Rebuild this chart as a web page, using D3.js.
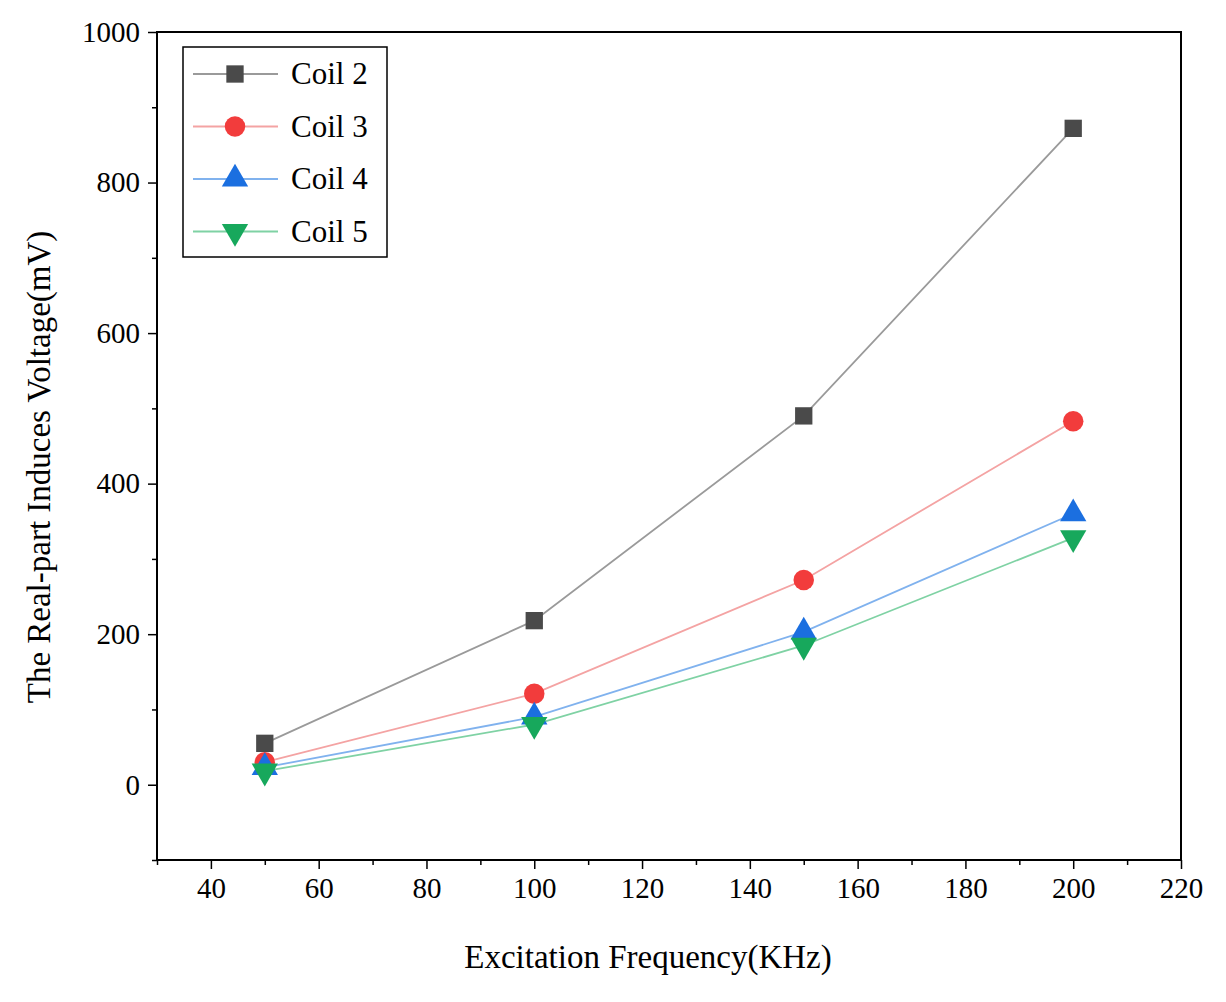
<!DOCTYPE html>
<html><head><meta charset="utf-8">
<script src="https://cdn.jsdelivr.net/npm/d3@7"></script>
<style>body{margin:0;background:#fff}text{font-family:"Liberation Serif","DejaVu Serif",serif}</style>
</head><body><div id="chart"></div>
<script>
// readings
var freqs = [50, 100, 150, 200];
var coil2 = [55, 218, 490, 872];
var coil3 = [30, 121, 272, 483];
var coil4 = [23, 90, 203, 360];
var coil5 = [18, 80, 185, 328];
var seriesNames = ["Coil 2", "Coil 3", "Coil 4", "Coil 5"];
var xTicks = [40, 60, 80, 100, 120, 140, 160, 180, 200, 220];
var yTicks = [0, 200, 400, 600, 800, 1000];

var width = 1226, height = 1002;
var L = 157, R = 1181, T = 32, B = 860;

var svg = d3.select("#chart").append("svg").attr("width", width).attr("height", height);
var x = d3.scaleLinear().domain([30, 220]).range([L, R]);
var y = d3.scaleLinear().domain([-100, 1000]).range([B, T]);

var series = [
	{name: seriesNames[0], vals: coil2, mark: "#4a4a4a", line: "#9a9a9a", sym: d3.symbolSquare, size: 300},
	{name: seriesNames[1], vals: coil3, mark: "#f23c3c", line: "#f4a3a3", sym: d3.symbolCircle, size: 330},
	{name: seriesNames[2], vals: coil4, mark: "#1b6fe0", line: "#80b2ee", sym: d3.symbolTriangle, size: 300},
	{name: seriesNames[3], vals: coil5, mark: "#17a85c", line: "#7fd2a4", sym: d3.symbolTriangle, size: 300, flip: true}
];

// axes
svg.append("g").attr("transform", "translate(0," + B + ")")
	.call(d3.axisBottom(x).tickValues(xTicks).tickSize(9).tickPadding(8).tickFormat(d3.format("d")));
svg.append("g").attr("transform", "translate(0," + B + ")")
	.call(d3.axisBottom(x).tickValues(d3.range(30, 221, 10).filter(function(v){return xTicks.indexOf(v) < 0;})).tickSize(5).tickFormat(""));
svg.append("g").attr("transform", "translate(" + L + ",0)")
	.call(d3.axisLeft(y).tickValues(yTicks).tickSize(9).tickPadding(8).tickFormat(d3.format("d")));
svg.append("g").attr("transform", "translate(" + L + ",0)")
	.call(d3.axisLeft(y).tickValues(d3.range(-100, 1001, 200)).tickSize(5).tickFormat(""));
svg.selectAll(".domain").remove();
svg.selectAll(".tick line").attr("stroke", "#000").attr("stroke-width", 1.5);
svg.selectAll(".tick text").attr("font-size", 29).attr("fill", "#000");
svg.append("rect").attr("x", L).attr("y", T).attr("width", R - L).attr("height", B - T)
	.attr("fill", "none").attr("stroke", "#000").attr("stroke-width", 2);

svg.append("text").attr("x", 648).attr("y", 968).attr("text-anchor", "middle")
	.attr("font-size", 33).text("Excitation Frequency(KHz)");
svg.append("text").attr("transform", "translate(50,467) rotate(-90)")
	.attr("text-anchor", "middle").attr("font-size", 33).text("The Real-part Induces Voltage(mV)");

var line = d3.line().x(function(d, i){return x(freqs[i]);}).y(function(d){return y(d);});
series.forEach(function(s) {
	svg.append("path").datum(s.vals).attr("d", line).attr("fill", "none")
		.attr("stroke", s.line).attr("stroke-width", 1.8);
});
series.forEach(function(s) {
	svg.selectAll(null).data(s.vals).enter().append("path")
		.attr("d", d3.symbol().type(s.sym).size(s.size))
		.attr("transform", function(d, i){return "translate(" + x(freqs[i]) + "," + y(d) + ")" + (s.flip ? " rotate(180)" : "");})
		.attr("fill", s.mark);
});

// legend
var lg = svg.append("g");
lg.append("rect").attr("x", 183).attr("y", 47).attr("width", 204).attr("height", 210)
	.attr("fill", "#fff").attr("stroke", "#000").attr("stroke-width", 1.5);
series.forEach(function(s, i) {
	var yy = 74 + i * 52.5;
	lg.append("line").attr("x1", 193).attr("x2", 278).attr("y1", yy).attr("y2", yy)
		.attr("stroke", s.line).attr("stroke-width", 1.8);
	lg.append("path").attr("d", d3.symbol().type(s.sym).size(s.size))
		.attr("transform", "translate(235," + yy + ")" + (s.flip ? " rotate(180)" : "")).attr("fill", s.mark);
	lg.append("text").attr("x", 291).attr("y", yy + 10).attr("font-size", 31).text(s.name);
});
</script></body></html>
